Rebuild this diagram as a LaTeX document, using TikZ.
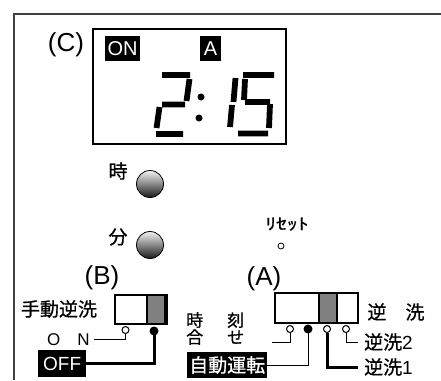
\documentclass[tikz,border=0pt]{standalone}
\usepackage{fontspec}
\usepackage{graphicx}
\setmainfont{Liberation Sans}
\newfontfamily\jp[FakeBold=0.8]{Noto Sans CJK JP}
\usetikzlibrary{positioning}

\tikzset{
  panel/.style={line width=2pt, draw=black!75},
  blk/.style={fill=black, text=white, inner sep=0pt, font=\fontsize{19}{19}\selectfont},
  seg/.style={line width=5.8pt},
  btn/.style={circle, draw=black, line width=0.8pt, minimum size=27pt, inner sep=0pt,
    shading=axis, top color=gray!10, bottom color=black!90},
  swbox/.style={draw, line width=1.8pt, fill=white, inner sep=0pt},
  knob/.style={draw, line width=1.2pt, fill=gray, inner sep=0pt},
  cont/.style={circle, draw, line width=1pt, fill=white, minimum size=7pt, inner sep=0pt},
  dotc/.style={circle, fill=black, minimum size=9pt, inner sep=0pt},
  big/.style={font=\fontsize{26}{26}\selectfont, inner sep=0pt, anchor=base},
  jlbl/.style={font=\jp\fontsize{19}{19}\selectfont, inner sep=1pt},
  wire/.style={line width=1pt},
  bus/.style={line width=3pt},
}

\begin{document}
\begin{tikzpicture}[x=1pt, y=-1pt]
\useasboundingbox (0,0) rectangle (441,380);

% panel
\draw[panel] (14,380) -- (14,14) -- (441,14);

% display (C)
\draw[line width=2pt] (93,29) rectangle (286,144);
\node[big] (lblC) at (66,51) {(C)};
\node[blk, minimum width=35pt, minimum height=25pt, font=\fontsize{20}{20}\selectfont] (onbox) at (122.5,48.5) {ON};
\node[blk, minimum width=21pt, minimum height=25pt, font=\fontsize{20}{20}\selectfont] (abox) at (210.5,48.5) {A};

% 2:15
\draw[seg] (162,75) -- (190,75) (189.5,79) -- (186.5,101) (162,104.5) -- (185,104.5)
  (159.5,107) -- (156.5,128) (156,134) -- (183,134);
\fill (201,97) circle (3.5) (199,118) circle (3.5);
\draw[seg] (235.5,78) -- (233.5,102) (232,105) -- (230,127);
\draw[seg] (243,75) -- (274,75) (245,79) -- (244,100) (245,102) -- (270,102)
  (270,104) -- (269,128) (238,133.5) -- (268,133.5);

% buttons
\node[jlbl] (lblH) at (118,171) {時};
\node[btn] (btnH) at (150,184) {};
\node[jlbl] (lblM) at (118,237) {分};
\node[btn] (btnM) at (150,245) {};
\node[jlbl, font=\jp\fontsize{16}{16}\selectfont] (rstlbl) at (287,224) {\scalebox{1.35}[1]{ﾘｾｯﾄ}};
\node[cont, minimum size=6pt, line width=0.8pt] (rst) at (281,246) {};

% switch (B)
\node[big] (lblB) at (102,284) {(B)};
\node[swbox, minimum width=52pt, minimum height=29pt] (swB) at (141,309.5) {};
\node[knob, minimum width=18pt, minimum height=29pt] (knobB) at (156,309.5) {};
\node[jlbl] (manlbl) at (59,309) {手動逆洗};
\node[font=\fontsize{17}{17}\selectfont, anchor=base west, inner sep=0pt, inner xsep=4pt]
  (onlbl) at (43,345) {O\quad N};
\node[blk, anchor=west, minimum height=27pt, inner xsep=5pt] (offlbl) at (38,363.5) {OFF\hspace{10pt}};
\node[cont] (bon) at (125.5,330) {};
\node[dotc] (boff) at (154,331) {};
\draw[wire] (bon.south) |- (onlbl.east);
\draw[bus] (boff.center) |- (offlbl.east);

% switch (A)
\node[big] (lblA) at (264,285) {(A)};
\node[swbox, minimum width=83pt, minimum height=30pt] (swA) at (316.5,308) {};
\node[knob, minimum width=18pt, minimum height=30pt] (knobA) at (328,308) {};
\node[font=\jp\fontsize{17}{17}\selectfont, align=left, anchor=north west, inner sep=0pt]
  (setlbl) at (186,312) {時\hspace{24pt}刻\\合\hspace{24pt}せ};
\node[blk, font=\jp\fontsize{19}{19}\selectfont, anchor=west, minimum height=26pt, inner xsep=2pt]
  (autolbl) at (187,365) {自動運転\hspace{12pt}};
\node[jlbl] (revlbl) at (396,312) {逆　洗};
\node[jlbl, anchor=west, inner xsep=6pt] (rev2) at (358,342) {逆洗{\rmfamily 2}};
\node[jlbl, anchor=west, inner xsep=6pt] (rev1) at (358,367) {逆洗{\rmfamily 1}};
\node[cont] (a1) at (290,329) {};
\node[dotc] (a2) at (308,329) {};
\node[cont] (a3) at (327,329) {};
\node[cont] (a4) at (346,329) {};
\coordinate (setend) at (272,342);
\draw[wire] (a1.south) |- (setend);
\draw[wire] (a2.center) |- (autolbl.east);
\draw[bus] (a3.south) |- (rev1.west);
\draw[wire] (a4.south) |- (rev2.west);

\end{tikzpicture}
\end{document}
